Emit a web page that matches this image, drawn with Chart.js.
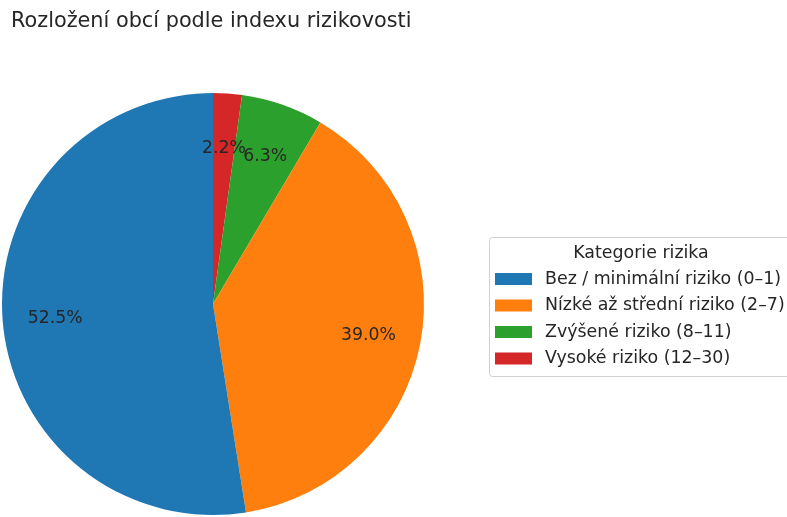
<!DOCTYPE html>
<html>
<head>
<meta charset="utf-8">
<script src="https://cdn.jsdelivr.net/npm/chart.js@4"></script>
<style>
  html, body { margin: 0; padding: 0; background: #fff; overflow: hidden; }
</style>
</head>
<body>
<canvas id="pieChart" width="787" height="517"></canvas>
<script>
const chartTitle = "Rozložení obcí podle indexu rizikovosti";
const legendTitle = "Kategorie rizika";
const categories = ["Bez / minimální riziko (0–1)", "Nízké až střední riziko (2–7)", "Zvýšené riziko (8–11)", "Vysoké riziko (12–30)"];
const shares = [52.5, 39.0, 6.3, 2.2];
const colors = ["#1f77b4", "#ff7f0e", "#2ca02c", "#d62728"];

// matplotlib goes counter-clockwise from the top, chart.js clockwise -> reverse
const drawLabels = categories.slice().reverse();
const drawData = shares.slice().reverse();
const drawColors = colors.slice().reverse();

const FONT = "'DejaVu Sans', sans-serif";

const extras = {
  id: "extras",
  afterDraw(chart) {
    const c = chart.ctx;
    c.save();
    // title
    c.fillStyle = "#262626";
    c.font = "20.8px " + FONT;
    c.textAlign = "left";
    c.textBaseline = "middle";
    c.fillText(chartTitle, 11, 22);

    // percent labels
    const meta = chart.getDatasetMeta(0);
    c.font = "17.3px " + FONT;
    c.textAlign = "center";
    meta.data.forEach((arc, i) => {
      const a = (arc.startAngle + arc.endAngle) / 2;
      const r = arc.outerRadius * 0.75;
      const x = arc.x + Math.cos(a) * r;
      const y = arc.y + Math.sin(a) * r;
      c.fillText(drawData[i].toFixed(1) + "%", x, y + 2);
    });

    // legend box
    const bx = 489.5, by = 237.5, bw = 310, bh = 139;
    c.strokeStyle = "#d0d0d0";
    c.lineWidth = 1;
    c.beginPath();
    c.roundRect(bx, by, bw, bh, 3);
    c.fillStyle = "rgba(255,255,255,0.8)";
    c.fill();
    c.stroke();
    c.fillStyle = "#262626";
    c.font = "17.4px " + FONT;
    c.textAlign = "center";
    c.fillText(legendTitle, 641, 253);
    c.textAlign = "left";
    categories.forEach((lab, i) => {
      const y = 279 + i * 26.5;
      c.fillStyle = colors[i];
      c.fillRect(495, y - 6, 37, 12);
      c.fillStyle = "#262626";
      c.fillText(lab, 545, y);
    });
    c.restore();
  }
};

new Chart(document.getElementById("pieChart").getContext("2d"), {
  type: "pie",
  data: {
    labels: drawLabels,
    datasets: [{
      data: drawData,
      backgroundColor: drawColors,
      borderWidth: 0
    }]
  },
  options: {
    responsive: false,
    animation: false,
    layout: { padding: { left: 2, top: 93, right: 363, bottom: 2 } },
    plugins: {
      legend: { display: false },
      tooltip: { enabled: false }
    }
  },
  plugins: [extras]
});
</script>
</body>
</html>
